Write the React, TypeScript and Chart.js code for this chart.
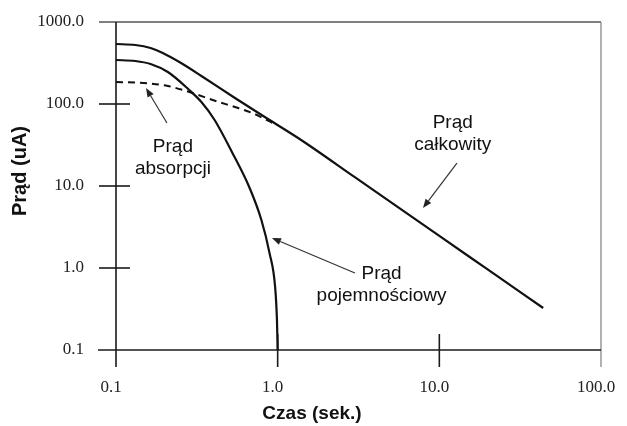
import React, { useEffect, useRef } from "react";
import { Chart, registerables } from "chart.js";

Chart.register(...registerables);

// ---- data ----
const xTickValues = [0.1, 1, 10, 100];
const yTickValues = [0.1, 1, 10, 100, 1000];

const totalTime = [0.1, 0.1317, 0.1636, 0.1947, 0.2526, 0.3375, 0.5443, 0.8906, 1.427, 3, 10, 20, 43.9];
const totalCurrent = [539, 524, 482, 419, 316, 219.5, 118.4, 63.8, 35.4, 12.8, 2.46, 0.953, 0.325];

const absorptionTime = [0.1, 0.1317, 0.1636, 0.2093, 0.2716, 0.4317, 0.5443, 0.6965, 0.9302];
const absorptionCurrent = [185.5, 182.9, 177.8, 165.8, 144.0, 105.8, 91.9, 77.7, 58.7];

const capacitiveTime = [0.1, 0.1317, 0.1636, 0.2093, 0.2796, 0.3375, 0.4074, 0.5212, 0.6667, 0.7931, 0.8906, 0.9645, 0.99, 1.0];
const capacitiveCurrent = [344, 334.6, 307.4, 245.6, 152.3, 105.8, 63.8, 26.0, 9.72, 3.85, 1.52, 0.586, 0.232, 0.1];

const xTitle = "Czas (sek.)";
const yTitle = "Prąd (uA)";

const labelAbsorption = ["Prąd", "absorpcji"];
const labelTotal = ["Prąd", "całkowity"];
const labelCapacitive = ["Prąd", "pojemnościowy"];

const toPoints = (xs: number[], ys: number[]) => xs.map((x, i) => ({ x, y: ys[i] }));

// annotations in data coordinates
const annotations = [
  { lines: labelAbsorption, at: [0.225, 26.0], arrowFrom: [0.2066, 58.6], arrowTo: [0.1533, 156.7] },
  { lines: labelTotal, at: [12.1, 50.9], arrowFrom: [12.85, 19.05], arrowTo: [7.92, 5.4] },
  { lines: labelCapacitive, at: [4.39, 0.734], arrowFrom: [3.006, 0.869], arrowTo: [0.922, 2.32] },
];

const SANS = "'Liberation Sans', Arial, sans-serif";
const SERIF = "'Liberation Serif', 'Times New Roman', serif";

const framePlugin = {
  id: "framePlugin",
  beforeDatasetsDraw(chart: any) {
    const { ctx, chartArea, scales } = chart;
    const { left, right, top, bottom } = chartArea;
    const xs = scales.x;
    const ys = scales.y;
    const seg = (x1: number, y1: number, x2: number, y2: number) => {
      ctx.beginPath();
      ctx.moveTo(x1, y1);
      ctx.lineTo(x2, y2);
      ctx.stroke();
    };
    ctx.save();
    ctx.lineCap = "butt";
    ctx.strokeStyle = "#555";
    ctx.lineWidth = 1.3;
    seg(left - 17, top, right, top);
    ctx.strokeStyle = "#888";
    seg(right, top, right, bottom + 17);
    ctx.strokeStyle = "#1a1a1a";
    ctx.lineWidth = 1.6;
    seg(left, top, left, bottom + 17);
    seg(left - 18, bottom, right, bottom);
    yTickValues.forEach((v) => {
      if (v <= 0.1 || v >= 1000) return;
      const py = ys.getPixelForValue(v);
      seg(left - 17, py, left + 14, py);
    });
    xTickValues.forEach((v) => {
      if (v <= 0.1 || v >= 100) return;
      const px = xs.getPixelForValue(v);
      seg(px, bottom - 16, px, bottom + 17);
    });
    ctx.restore();
  },
  afterDatasetsDraw(chart: any) {
    const { ctx, scales } = chart;
    const xs = scales.x;
    const ys = scales.y;
    ctx.save();
    ctx.fillStyle = "#111";
    ctx.textAlign = "center";
    ctx.textBaseline = "middle";
    ctx.font = `bold 19px ${SANS}`;
    ctx.fillText(xTitle, 312, 414);
    ctx.save();
    ctx.translate(20, 171);
    ctx.rotate(-Math.PI / 2);
    ctx.font = `bold 20px ${SANS}`;
    ctx.fillText(yTitle, 0, 0);
    ctx.restore();

    ctx.font = `19px ${SANS}`;
    ctx.textBaseline = "alphabetic";
    annotations.forEach((a) => {
      const cx = xs.getPixelForValue(a.at[0]);
      const cy = ys.getPixelForValue(a.at[1]);
      a.lines.forEach((t, i) => ctx.fillText(t, cx, cy + i * 22));
      const x1 = xs.getPixelForValue(a.arrowFrom[0]);
      const y1 = ys.getPixelForValue(a.arrowFrom[1]);
      const x2 = xs.getPixelForValue(a.arrowTo[0]);
      const y2 = ys.getPixelForValue(a.arrowTo[1]);
      const ang = Math.atan2(y2 - y1, x2 - x1);
      const hl = 9;
      const hw = 3.5;
      const bx = x2 - hl * Math.cos(ang);
      const by = y2 - hl * Math.sin(ang);
      ctx.strokeStyle = "#333";
      ctx.lineWidth = 1.2;
      ctx.beginPath();
      ctx.moveTo(x1, y1);
      ctx.lineTo(bx, by);
      ctx.stroke();
      ctx.fillStyle = "#222";
      ctx.beginPath();
      ctx.moveTo(x2, y2);
      ctx.lineTo(bx + hw * Math.sin(ang), by - hw * Math.cos(ang));
      ctx.lineTo(bx - hw * Math.sin(ang), by + hw * Math.cos(ang));
      ctx.closePath();
      ctx.fill();
      ctx.fillStyle = "#111";
    });
    ctx.restore();
  },
};

export default function App() {
  const canvasRef = useRef<HTMLCanvasElement | null>(null);

  useEffect(() => {
    const canvas = canvasRef.current;
    if (!canvas) return;
    const lineCommon = {
      showLine: true,
      pointRadius: 0,
      pointHoverRadius: 0,
      borderColor: "#111",
      backgroundColor: "#111",
      fill: false,
      cubicInterpolationMode: "monotone" as const,
    };
    const hiddenGrid = (len: number) => ({
      display: true,
      drawOnChartArea: false,
      drawTicks: true,
      tickLength: len,
      color: "rgba(0,0,0,0)",
    });
    const chart = new Chart(canvas, {
      type: "scatter",
      data: {
        datasets: [
          { ...lineCommon, label: "Prąd całkowity", data: toPoints(totalTime, totalCurrent), borderWidth: 2.2 },
          { ...lineCommon, label: "Prąd pojemnościowy", data: toPoints(capacitiveTime, capacitiveCurrent), borderWidth: 2.2 },
          {
            ...lineCommon,
            label: "Prąd absorpcji",
            data: toPoints(absorptionTime, absorptionCurrent),
            borderWidth: 2,
            borderDash: [7, 5],
          },
        ],
      },
      options: {
        animation: false,
        responsive: false,
        devicePixelRatio: 1,
        layout: { padding: { top: 22, right: 26, left: 0, bottom: 0 } },
        plugins: {
          legend: { display: false },
          tooltip: { enabled: false },
        },
        scales: {
          x: {
            type: "logarithmic",
            min: 0.1,
            max: 100,
            position: "bottom",
            grid: hiddenGrid(27),
            border: { display: false },
            ticks: {
              autoSkip: false,
              maxRotation: 0,
              padding: 0,
              labelOffset: -5,
              color: "#222",
              font: { family: SERIF, size: 17 },
              callback: (v: any) => Number(v).toFixed(1),
            },
            afterBuildTicks: (s: any) => {
              s.ticks = xTickValues.map((value) => ({ value }));
            },
            afterFit: (s: any) => {
              s.height = 76;
            },
          },
          y: {
            type: "logarithmic",
            min: 0.1,
            max: 1000,
            position: "left",
            grid: hiddenGrid(32),
            border: { display: false },
            ticks: {
              autoSkip: false,
              padding: 0,
              color: "#222",
              font: { family: SERIF, size: 17 },
              callback: (v: any) => Number(v).toFixed(1),
            },
            afterBuildTicks: (s: any) => {
              s.ticks = yTickValues.map((value) => ({ value }));
            },
            afterFit: (s: any) => {
              s.width = 116;
            },
          },
        },
      },
      plugins: [framePlugin],
    });
    return () => chart.destroy();
  }, []);

  return (
    <div style={{ position: "fixed", left: 0, top: 0, width: 627, height: 426, background: "#fff" }}>
      <canvas ref={canvasRef} width={627} height={426} style={{ display: "block", width: 627, height: 426 }} />
    </div>
  );
}
